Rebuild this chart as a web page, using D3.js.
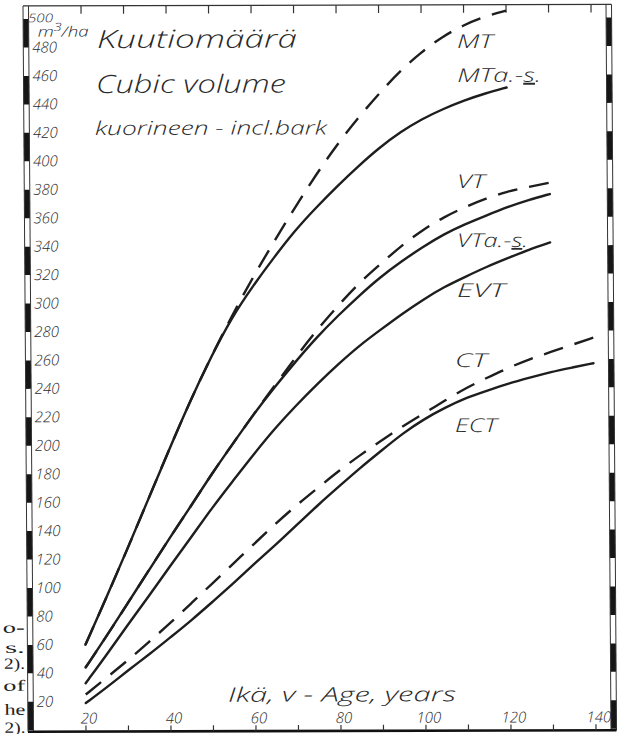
<!DOCTYPE html>
<html>
<head>
<meta charset="utf-8">
<script src="https://cdn.jsdelivr.net/npm/d3@7"></script>
<style>
  body { margin: 0; background: #fff; }
  svg { display: block; }
  .hand { font-family: "Open Sans", sans-serif; font-style: italic; font-weight: 300; fill: #2a2a2a; }
  .serif { font-family: "Liberation Serif", serif; fill: #222; font-size: 15.5px; }
</style>
</head>
<body>
<div id="chart"></div>
<script>
/**
 * CONSTANTS AND GLOBALS
 * */
const width = 621, height = 734;
const frame = { left: 25.5, right: 614, top: 5.2, bottom: 731, bar: 5.5 };

/**
 * DATA
 * */
const ages = [20, 25, 30, 35, 40, 45, 50, 55, 60, 65, 70, 75, 80, 85, 90, 95, 100, 105, 110, 115, 120, 125, 130, 135, 140];

// dashed
const mt   = [60, 93, 127, 162, 197, 231, 262, 291, 318, 343, 367, 390, 411, 430, 447, 463, 476, 487, 495, 501, 505, null, null, null, null];
const vt   = [44, 66, 89, 112, 135, 157, 180, 201, 222, 242, 262, 281, 298, 314, 327, 340, 351, 360, 367, 373, 378, 381, 384, null, null];
const ct   = [25, 37, 49, 62, 75, 89, 103, 117, 131, 145, 158, 170, 182, 193, 203, 213, 222, 231, 240, 247, 254, 260, 265, 270, 275];
// solid
const mtas = [60, 93, 127, 162, 197, 231, 262, 290, 312, 332, 351, 367, 382, 396, 409, 420, 429, 436, 442, 447, 451, null, null, null, null];
const vtas = [44, 66, 89, 112, 135, 157, 180, 201, 222, 241, 259, 276, 291, 305, 318, 329, 339, 348, 355, 361, 367, 372, 376, null, null];
const evt  = [33, 53, 74, 94, 115, 135, 156, 175, 194, 212, 228, 243, 257, 270, 281, 292, 302, 311, 318, 325, 331, 337, 342, null, null];
const ect  = [19, 30, 42, 53, 65, 77, 90, 103, 117, 130, 144, 158, 171, 184, 196, 208, 218, 226, 233, 238, 243, 247, 251, 254, 257];

const xTicks = d3.range(20, 141, 10);
const xLabels = [20, 40, 60, 80, 100, 120, 140];
const yLabels = d3.range(20, 481, 20);

/**
 * SCALES
 * */
const x = d3.scaleLinear().domain([20, 140]).range([83.5, 593.5]);
const y = d3.scaleLinear().domain([0, 500]).range([729.5, 18.3]);

const svg = d3.select("#chart").append("svg")
  .attr("width", width)
  .attr("height", height);

// the scan is a little skewed, so the whole drawing gets the same skew
const g = svg.append("g")
  .attr("transform", "matrix(1,-0.0026,0.00689,1,-2.535,0.827)");

// + FRAME: striped bars left and right
[frame.left, frame.right - frame.bar].forEach(x0 => {
  g.append("g").selectAll("rect")
    .data(d3.range(0, 500, 40))
    .join("rect")
    .attr("x", x0)
    .attr("width", frame.bar)
    .attr("y", d => y(d + 20))
    .attr("height", d => y(d) - y(d + 20))
    .attr("fill", "#161616");
  [x0, x0 + frame.bar].forEach(xx => {
    g.append("line")
      .attr("x1", xx).attr("x2", xx)
      .attr("y1", frame.top).attr("y2", frame.bottom)
      .attr("stroke", "#333").attr("stroke-width", 1);
  });
});
g.append("line")
  .attr("x1", frame.left).attr("x2", frame.right)
  .attr("y1", frame.top).attr("y2", frame.top)
  .attr("stroke", "#333").attr("stroke-width", 1.3);
g.append("line")
  .attr("x1", frame.left).attr("x2", frame.right)
  .attr("y1", frame.bottom).attr("y2", frame.bottom)
  .attr("stroke", "#111").attr("stroke-width", 2.6);

// + TICKS
g.append("g").selectAll("line")
  .data(xTicks)
  .join("line")
  .attr("x1", d => x(d)).attr("x2", d => x(d))
  .attr("y1", frame.top).attr("y2", frame.top + 8)
  .attr("stroke", "#333").attr("stroke-width", 1.2);
g.append("g").selectAll("line")
  .data(xTicks)
  .join("line")
  .attr("x1", d => x(d)).attr("x2", d => x(d))
  .attr("y1", frame.bottom).attr("y2", frame.bottom - 6)
  .attr("stroke", "#333").attr("stroke-width", 1.2);

g.append("g").selectAll("text")
  .data(xLabels)
  .join("text")
  .attr("class", "hand")
  .attr("x", d => x(d) + 3)
  .attr("y", 723)
  .attr("text-anchor", "middle")
  .attr("font-size", 15)
  .text(d => d);

g.append("g").selectAll("text")
  .data(yLabels)
  .join("text")
  .attr("class", "hand")
  .attr("x", 34.5)
  .attr("y", d => y(d) + 5)
  .attr("font-size", 15)
  .text(d => d);

// + UNIT AND TITLES
g.append("text").attr("class", "hand")
  .attr("x", 30.4).attr("y", 21.5).attr("font-size", 12)
  .attr("textLength", 25).attr("lengthAdjust", "spacingAndGlyphs")
  .text("500");
const unit = g.append("text").attr("class", "hand")
  .attr("x", 40).attr("y", 36).attr("font-size", 14.5)
  .attr("textLength", 51).attr("lengthAdjust", "spacingAndGlyphs");
unit.append("tspan").text("m");
unit.append("tspan").attr("dy", -6).attr("font-size", 11).text("3");
unit.append("tspan").attr("dy", 6).text("/ha");

const titles = [
  { t: "Kuutiomäärä", x: 99.2, y: 47.4, size: 25, w: 200 },
  { t: "Cubic volume", x: 97.9, y: 92.4, size: 25, w: 190 },
  { t: "kuorineen - incl.bark", x: 96.6, y: 134.4, size: 19, w: 232 },
  { t: "Ikä, v - Age, years", x: 225.7, y: 701.5, size: 20, w: 228 }
];
g.append("g").selectAll("text")
  .data(titles)
  .join("text")
  .attr("class", "hand")
  .attr("x", d => d.x).attr("y", d => d.y)
  .attr("font-size", d => d.size)
  .attr("textLength", d => d.w)
  .attr("lengthAdjust", "spacingAndGlyphs")
  .text(d => d.t);

// + CURVES
const line = d3.line()
  .defined(d => d[1] != null)
  .x(d => x(d[0]))
  .y(d => y(d[1]))
  .curve(d3.curveBasis);

const dashed = [mt, vt, ct];
const solid = [mtas, vtas, evt, ect];

g.append("g").selectAll("path")
  .data(dashed)
  .join("path")
  .attr("d", d => line(d3.zip(ages, d)))
  .attr("fill", "none")
  .attr("stroke", "#1e1e1e")
  .attr("stroke-width", 2.4)
  .attr("stroke-dasharray", "20,12");

g.append("g").selectAll("path")
  .data(solid)
  .join("path")
  .attr("d", d => line(d3.zip(ages, d)))
  .attr("fill", "none")
  .attr("stroke", "#1e1e1e")
  .attr("stroke-width", 2.4)
  .attr("stroke-linecap", "round");

// + CURVE LABELS
const curveLabels = [
  { t: "MT", age: 108.4, val: 478.8, w: 36 },
  { t: "MTa.-", s: "s", age: 108.4, val: 455, w: 84 },
  { t: "VT", age: 108.2, val: 380.4, w: 28 },
  { t: "VTa.-", s: "s", age: 108.1, val: 338.9, w: 71 },
  { t: "EVT", age: 108, val: 303.8, w: 48 },
  { t: "CT", age: 107.4, val: 254.6, w: 32 },
  { t: "ECT", age: 107.3, val: 208.9, w: 42 }
];
const lab = g.append("g").selectAll("text")
  .data(curveLabels)
  .join("text")
  .attr("class", "hand")
  .attr("x", d => x(d.age))
  .attr("y", d => y(d.val))
  .attr("font-size", 19)
  .attr("textLength", d => d.w)
  .attr("lengthAdjust", "spacingAndGlyphs");
lab.append("tspan").text(d => d.t);
lab.filter(d => d.s).append("tspan")
  .style("text-decoration", "underline")
  .text(d => d.s);
lab.filter(d => d.s).append("tspan").text(".");

// + PAGE TEXT CUT OFF AT THE LEFT EDGE
const fragments = ["o-", "s.", "2).", "of", "he", "2)."];
const fragY = [632, 652, 668, 690, 714, 732];
const fragW = [22, 20, 21, 22, 21, 21];
g.append("g").selectAll("text")
  .data(fragments)
  .join("text")
  .attr("class", "serif")
  .attr("x", (d, i) => 23 - fragW[i])
  .attr("y", (d, i) => fragY[i])
  .attr("textLength", (d, i) => fragW[i])
  .attr("lengthAdjust", "spacingAndGlyphs")
  .text(d => d);
</script>
</body>
</html>
